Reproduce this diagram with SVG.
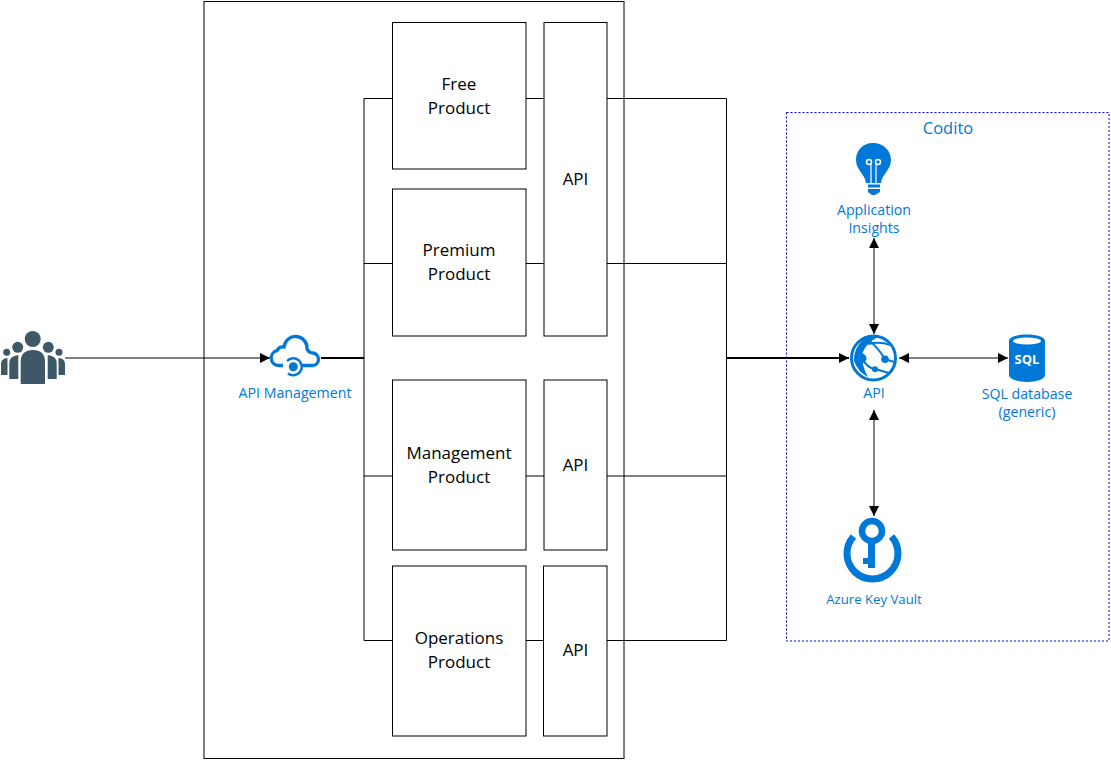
<svg xmlns="http://www.w3.org/2000/svg" width="1111" height="760" viewBox="0 0 1111 760">
<style>
.box{fill:#fff;stroke:#000;stroke-width:1}
.lbl{font-family:"Open Sans","Noto Sans","Liberation Sans",sans-serif;font-size:17px;fill:#000;text-anchor:middle}
.az{font-family:"Open Sans","Noto Sans","Liberation Sans",sans-serif;font-size:14.200px;fill:#0078d7;text-anchor:middle}
.c{fill:none;stroke:#000;stroke-width:1}
.blue{fill:#0078d7}
.ring{fill:none;stroke:#0078d7}
.user{fill:#3e5868}
</style>
<defs>
<marker id="ah" markerUnits="userSpaceOnUse" markerWidth="11" markerHeight="10" refX="10" refY="5" orient="auto-start-reverse"><path d="M0 0L10 5L0 10Z" fill="#000"/></marker>
</defs>
<rect width="1111" height="760" fill="#fff"/>
<g id="container"><rect class="box" x="204" y="1.500" width="420" height="757"/></g>
<g id="codito">
<rect x="786.500" y="112.500" width="322.500" height="528.500" fill="none" stroke="#0000ff" stroke-width="1" stroke-dasharray="2 2"/>
<text class="az" x="948" y="134" style="font-size:16.500px">Codito</text>
</g>
<g id="connectors">
<path class="c" d="M364 98.500V640.500M364 98.500H392M364 263.500H392M364 476H392M364 640.500H392"/>
<path class="c" d="M526 98.500H544M526 263.500H544M526 476H544M526 640.500H544"/>
<path class="c" d="M607 98.500H726.500M607 263.500H726.500M607 476H726.500M607 640.500H726.500M726.500 98.500V640.500"/>
<path class="c" d="M65 358H270" marker-end="url(#ah)"/>
<path class="c" d="M321 358H364" style="stroke-width:2"/>
<path class="c" d="M727 358H849" style="stroke-width:2" marker-end="url(#ah)"/>
<path class="c" d="M874 238V334" marker-start="url(#ah)" marker-end="url(#ah)"/>
<path class="c" d="M874 410V516" marker-start="url(#ah)" marker-end="url(#ah)"/>
<path class="c" d="M899 358H1008" marker-start="url(#ah)" marker-end="url(#ah)"/>
</g>
<g id="free"><rect class="box" x="392.500" y="22.500" width="133.500" height="146.500"/><text class="lbl" x="459" y="90">Free</text><text class="lbl" x="459" y="114">Product</text></g>
<g id="premium"><rect class="box" x="392.500" y="189" width="133.500" height="147"/><text class="lbl" x="459" y="256">Premium</text><text class="lbl" x="459" y="280">Product</text></g>
<g id="management"><rect class="box" x="392.500" y="380" width="133.500" height="170"/><text class="lbl" x="459" y="459">Management</text><text class="lbl" x="459" y="483">Product</text></g>
<g id="operations"><rect class="box" x="392.500" y="566" width="133.500" height="170"/><text class="lbl" x="459" y="644">Operations</text><text class="lbl" x="459" y="668">Product</text></g>
<g id="api1"><rect class="box" x="544" y="22.500" width="63" height="313.500"/><text class="lbl" x="575.500" y="185">API</text></g>
<g id="api2"><rect class="box" x="544" y="380" width="63" height="170"/><text class="lbl" x="575.500" y="471">API</text></g>
<g id="api3"><rect class="box" x="543.500" y="566" width="63.500" height="170"/><text class="lbl" x="575.500" y="656">API</text></g>
<g id="users">
<circle class="user" cx="6.700" cy="352.300" r="3.500"/><circle class="user" cx="59" cy="352.300" r="3.500"/>
<path class="user" d="M1 375V364Q1 358.500 7.500 358V375Z"/><path class="user" d="M65 375V364Q65 358.500 58.500 358V375Z"/>
<circle class="user" cx="17.700" cy="347.300" r="5.500"/><circle class="user" cx="48.300" cy="347.300" r="5.500"/>
<path class="user" d="M9.300 379V363Q9.300 356 18.300 355V379Z"/><path class="user" d="M56.700 379V363Q56.700 356 47.700 355V379Z"/>
<circle class="user" cx="32.700" cy="339" r="8"/>
<path class="user" d="M20.700 384V362Q20.700 350 33 350Q45 350 45 362V384Z"/>
</g>
<g id="apim">
<path class="ring" stroke-width="3.300" d="M283 365.500H278.500A7.500 7.500 0 0 1 277 350.700Q279 346 284 347A11.500 11.500 0 0 1 307 349Q309 353 313 353A6.300 6.300 0 0 1 313 365.500H302"/>
<circle class="blue" cx="293.300" cy="366.700" r="4.500"/>
<path class="ring" stroke-width="2.500" d="M287 361A8.500 8.500 0 1 1 288 373.400"/>
<text class="az" x="295" y="397.500">API Management</text>
</g>
<g id="insights">
<path class="blue" d="M873 143C862 143 856 151 856 160C856 170 865 174 866 183H881C882 174 891 170 891 160C891 151 884 143 873 143Z"/>
<circle cx="869" cy="162" r="2.500" fill="none" stroke="#fff" stroke-width="1.500"/><circle cx="878" cy="162" r="2.500" fill="none" stroke="#fff" stroke-width="1.500"/>
<path d="M871 164V183M876 164V183" stroke="#fff" stroke-width="1.200" fill="none"/>
<path class="blue" d="M868 184.500H880V187.500H868ZM868 189H880V192L875 195H872L868 192Z"/>
<text class="az" x="874" y="214.500">Application</text><text class="az" x="874" y="232.500">Insights</text>
</g>
<g id="api-app">
<circle class="ring" cx="873.500" cy="358" r="22" stroke-width="3"/>
<path class="blue" d="M866 337Q853 348 854 361Q858 372 868 377Q861 365 862.500 353Q866 343 878 337Z"/>
<path class="ring" stroke-width="2" d="M866 338Q877 346 885 359L894 362M862 358Q867 368 875 369L889 373M868 344Q880 341 890 345"/>
<circle class="blue" cx="885" cy="359.300" r="3.800"/><circle class="blue" cx="875" cy="369.300" r="3"/>
<circle class="blue" cx="861.700" cy="358.300" r="4.800"/>
<text class="az" x="874" y="397.500">API</text>
</g>
<g id="sql">
<path class="blue" d="M1009 341C1009 337 1017 334.500 1027 334.500C1037 334.500 1045 337 1045 341V375C1045 379 1037 382 1027 382C1017 382 1009 379 1009 375Z"/>
<ellipse cx="1027" cy="341" rx="14" ry="3.500" fill="#fff"/>
<text x="1027" y="364" text-anchor="middle" font-family="'Open Sans','Liberation Sans',sans-serif" font-size="13" font-weight="700" fill="#fff">SQL</text>
<text class="az" x="1027" y="398.500">SQL database</text><text class="az" x="1027" y="416.500">(generic)</text>
</g>
<g id="keyvault">
<path class="ring" stroke-width="7" d="M853.500 536.500A25.500 25.500 0 1 0 891.500 536.500"/>
<circle class="ring" cx="872" cy="531" r="10" stroke-width="6.500"/>
<path class="blue" d="M868 540H875V568H868V564H863V558H868Z"/>
<text class="az" x="874" y="604" style="font-size:13.200px">Azure Key Vault</text>
</g>
</svg>
